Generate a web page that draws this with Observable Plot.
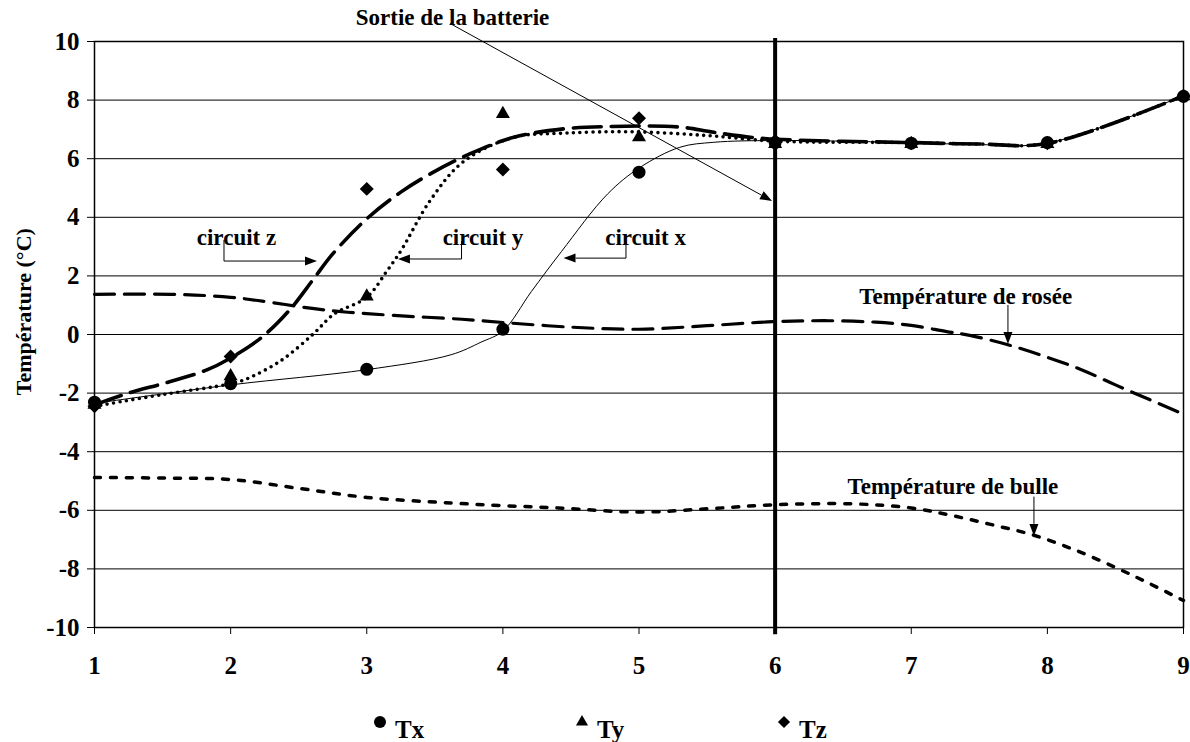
<!DOCTYPE html>
<html><head><meta charset="utf-8">
<script src="https://cdn.jsdelivr.net/npm/d3@7"></script>
<script src="https://cdn.jsdelivr.net/npm/@observablehq/plot@0.6"></script>
<style>
body{margin:0;background:#fff;}
#chart svg{display:block;}
</style>
</head><body><div id="chart"></div>
<script>
// ---- data ----
const positions = [1, 2, 3, 4, 5, 6, 7, 8, 9];
const xTicks = [1, 2, 3, 4, 5, 6, 7, 8, 9];
const yTicks = [-10, -8, -6, -4, -2, 0, 2, 4, 6, 8, 10];
const seriesNames = ["Tx", "Ty", "Tz"];
const seriesSymbols = ["circle", "triangle", "diamond2"];
const tx = [-2.31, -1.68, -1.19, 0.18, 5.54, 6.55, 6.53, 6.55, 8.13];
const ty = [-2.40, -1.42, 1.30, 7.53, 6.73, 6.50, 6.50, 6.50, 8.13];
const tz = [-2.45, -0.75, 4.97, 5.63, 7.38, 6.60, 6.53, 6.53, 8.13];

// smoothed curves [position, temperature]
const curveCircuitX = [[1,-2.35],[2,-1.72],[3,-1.2],[3.62,-0.69],[3.84,-0.26],[4,0.12],[4.21,1.47],[4.43,2.83],[4.77,4.8],[5.01,5.71],[5.3,6.39],[5.55,6.56],[6,6.62],[7,6.55],[7.5,6.48],[8,6.53],[9,8.15]];
const curveCircuitY = [[1,-2.45],[1.5,-2.05],[2,-1.68],[2.12,-1.51],[2.37,-0.89],[2.61,0.03],[2.76,0.7],[3,1.27],[3.15,2.18],[3.25,2.85],[3.47,4.6],[3.71,5.9],[4.08,6.73],[4.45,6.87],[4.94,6.92],[5.5,6.79],[6,6.6],[7,6.55],[7.5,6.5],[8,6.52],[9,8.15]];
const curveCircuitZ = [[1,-2.4],[1.25,-2.0],[1.54,-1.63],[1.83,-1.2],[2,-0.8],[2.23,-0.09],[2.43,0.82],[2.61,1.9],[2.75,2.75],[3,3.95],[3.25,4.86],[3.47,5.49],[3.76,6.17],[4.08,6.73],[4.45,7.02],[4.8,7.1],[5.3,7.08],[5.55,6.9],[5.92,6.69],[7,6.55],[7.5,6.5],[8,6.52],[9,8.15]];
const curveRosee = [[1,1.37],[1.6,1.37],[2,1.27],[2.2,1.16],[2.6,0.89],[2.86,0.76],[3.2,0.65],[3.7,0.52],[4,0.41],[4.5,0.25],[5,0.18],[5.5,0.3],[6,0.44],[6.39,0.47],[6.74,0.42],[7,0.31],[7.26,0.1],[7.43,-0.03],[7.71,-0.35],[8,-0.78],[8.25,-1.2],[8.5,-1.72],[8.75,-2.22],[9,-2.72]];
const curveBulle = [[1,-4.88],[1.5,-4.9],[2,-4.95],[2.5,-5.25],[3,-5.56],[3.62,-5.75],[4,-5.84],[4.41,-5.92],[5,-6.06],[5.5,-5.95],[6,-5.81],[6.57,-5.78],[7,-5.92],[7.3,-6.18],[7.6,-6.5],[7.9,-6.85],[8.2,-7.35],[8.5,-7.95],[8.75,-8.5],[9,-9.08]];

const batteryExit = [6];
const yTitle = "Température (°C)";

// annotations
const annotLabels = ["Sortie de la batterie", "circuit z", "circuit y", "circuit x", "Température de rosée", "Température de bulle"];
const annotLabelX = [3.63, 2.043, 3.854, 5.048, 7.40, 7.306];
const annotLabelY = [10.80, 3.29, 3.29, 3.29, 1.30, -5.19];
const annotArrows = [
  [[3.615, 10.60], [5.981, 4.54]],
  [[1.955, 3.21], [1.955, 2.49], [2.638, 2.49]],
  [[3.70, 3.17], [3.70, 2.56], [3.233, 2.56]],
  [[4.908, 3.17], [4.908, 2.59], [4.449, 2.59]],
  [[7.714, 0.99], [7.714, -0.34]],
  [[7.905, -5.55], [7.905, -6.89]]
];

// ---- build ----
const FONT = "'Liberation Serif', 'Times New Roman', serif";
const pts = (arr) => arr.map(([x, y]) => ({x, y}));
const markerData = positions.flatMap((p, i) => [
  {x: p, y: tx[i], s: "Tx"}, {x: p, y: ty[i], s: "Ty"}, {x: p, y: tz[i], s: "Tz"}
]);

function arrowsMark(paths) {
  return (index, scales) => {
    const {x, y} = scales;
    const g = d3.create("svg:g");
    for (const p of paths) {
      const q = p.map(([a, b]) => [x(a), y(b)]);
      const n = q.length;
      const [x1, y1] = q[n - 2], [x2, y2] = q[n - 1];
      const ang = Math.atan2(y2 - y1, x2 - x1);
      const L = 12, W = 4.5;
      const bx = x2 - L * Math.cos(ang), by = y2 - L * Math.sin(ang);
      const line = q.slice(0, n - 1).concat([[bx, by]]);
      g.append("path").attr("d", d3.line()(line)).attr("fill", "none").attr("stroke", "black").attr("stroke-width", 1);
      const px = -Math.sin(ang) * W, py = Math.cos(ang) * W;
      g.append("path").attr("d", `M${x2},${y2}L${bx + px},${by + py}L${bx - px},${by - py}Z`).attr("fill", "black");
    }
    return g.node();
  };
}

const plot = Plot.plot({
  width: 1190,
  height: 690,
  marginLeft: 94,
  marginRight: 7,
  marginTop: 41,
  marginBottom: 63,
  style: {fontFamily: FONT, fontSize: "25px", fontWeight: "bold", background: "white", color: "black", overflow: "visible"},
  x: {domain: [1, 9], ticks: xTicks, tickSize: 7, tickPadding: 22, tickFormat: d => String(d), label: null},
  y: {domain: [-10, 10], ticks: yTicks, tickSize: 7, tickPadding: 8, tickFormat: d => String(d), label: null},
  symbol: {domain: seriesNames, range: seriesSymbols},
  marks: [
    Plot.ruleY(yTicks, {stroke: "black", strokeWidth: 1}),
    Plot.frame({stroke: "black", strokeWidth: 1.5}),
    Plot.line(pts(curveRosee), {x: "x", y: "y", curve: "catmull-rom", stroke: "black", strokeWidth: 3.2, strokeDasharray: "20,10"}),
    Plot.line(pts(curveBulle), {x: "x", y: "y", curve: "catmull-rom", stroke: "black", strokeWidth: 3.5, strokeDasharray: "6,10"}),
    Plot.line(pts(curveCircuitX), {x: "x", y: "y", curve: "catmull-rom", stroke: "black", strokeWidth: 1}),
    Plot.line(pts(curveCircuitY), {x: "x", y: "y", curve: "catmull-rom", stroke: "black", strokeWidth: 3.6, strokeDasharray: "0,6.5", strokeLinecap: "round"}),
    Plot.line(pts(curveCircuitZ), {x: "x", y: "y", curve: "catmull-rom", stroke: "black", strokeWidth: 3.6, strokeDasharray: "28,10"}),
    Plot.ruleX(batteryExit, {y1: 10.1, y2: -10.25, stroke: "black", strokeWidth: 4}),
    Plot.dot(markerData.filter(d => d.s === "Tx"), {x: "x", y: "y", symbol: "s", fill: "black", r: 6.5}),
    Plot.dot(markerData.filter(d => d.s === "Ty"), {x: "x", y: "y", symbol: "s", fill: "black", r: 5.2}),
    Plot.dot(markerData.filter(d => d.s === "Tz"), {x: "x", y: "y", symbol: "s", fill: "black", r: 6.3}),
    arrowsMark(annotArrows),
    Plot.text(annotLabels, {x: (d, i) => annotLabelX[i], y: (d, i) => annotLabelY[i], text: d => d, fontSize: 23, fontWeight: "bold", fill: "black", textAnchor: "middle", lineAnchor: "middle"}),
    Plot.text([yTitle], {frameAnchor: "left", y: 0.78, dx: -71, rotate: -90, text: d => d, fontSize: 22, fontWeight: "bold", fill: "black", textAnchor: "middle", lineAnchor: "middle"})
  ]
});
document.getElementById("chart").appendChild(plot);

// legend below the chart
const legend = d3.create("svg").attr("width", 1190).attr("height", 52)
  .style("display", "block").style("font-family", FONT);
const legendStart = 380, legendStep = 202;
seriesNames.forEach((name, i) => {
  const cx = legendStart + i * legendStep;
  const size = seriesSymbols[i] === "circle" ? Math.PI * 6 * 6 : seriesSymbols[i] === "triangle" ? Math.PI * 4.5 * 4.5 : Math.PI * 5.5 * 5.5;
  const sym = {circle: d3.symbolCircle, triangle: d3.symbolTriangle, diamond2: d3.symbolDiamond2}[seriesSymbols[i]];
  legend.append("path").attr("transform", `translate(${cx},32)`).attr("d", d3.symbol(sym, size)()).attr("fill", "black");
  legend.append("text").attr("x", cx + 15).attr("y", 48).attr("font-size", 25).attr("font-weight", "bold").text(name);
});
document.getElementById("chart").appendChild(legend.node());
</script>
</body></html>
